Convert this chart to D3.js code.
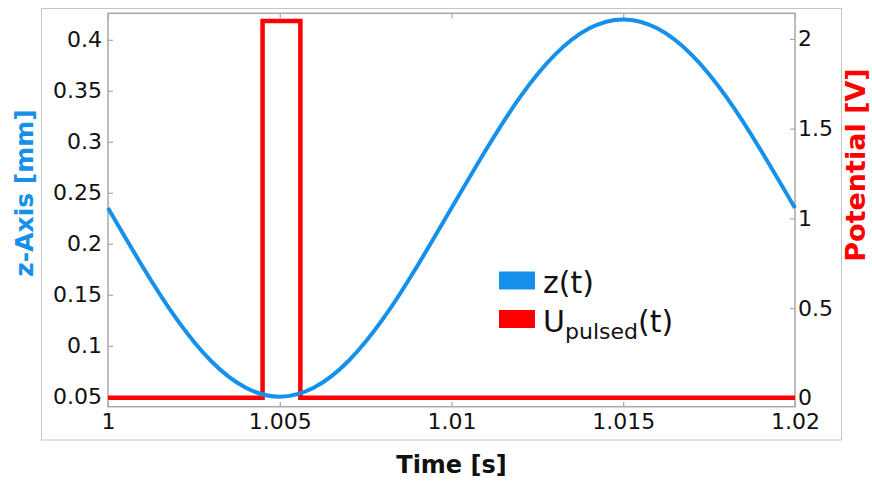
<!DOCTYPE html>
<html>
<head>
<meta charset="utf-8">
<script src="https://cdn.jsdelivr.net/npm/d3@7"></script>
<style>
  body { margin: 0; background: #fff; }
  svg { display: block; font-family: "DejaVu Sans", sans-serif; }
  .tick text { fill: #111; }
</style>
</head>
<body>
<svg id="chart" width="872" height="483"></svg>
<script>
// data
const zTime = [1, 1.001, 1.002, 1.003, 1.004, 1.005, 1.006, 1.007, 1.008, 1.009, 1.01,
               1.011, 1.012, 1.013, 1.014, 1.015, 1.016, 1.017, 1.018, 1.019, 1.02];
const zValues = [0.235, 0.178, 0.126, 0.085, 0.059, 0.05, 0.059, 0.085, 0.126, 0.178, 0.235,
                 0.292, 0.344, 0.385, 0.411, 0.42, 0.411, 0.385, 0.344, 0.292, 0.235];
const pulseTime = [1, 1.0045, 1.0045, 1.0056, 1.0056, 1.02];
const pulseValues = [0, 0, 2.1, 2.1, 0, 0];

const timeTicks = [1, 1.005, 1.01, 1.015, 1.02];
const timeLabels = ["1", "1.005", "1.01", "1.015", "1.02"];
const zTicks = [0.05, 0.1, 0.15, 0.2, 0.25, 0.3, 0.35, 0.4];
const zLabels = ["0.05", "0.1", "0.15", "0.2", "0.25", "0.3", "0.35", "0.4"];
const potTicks = [0, 0.5, 1, 1.5, 2];
const potLabels = ["0", "0.5", "1", "1.5", "2"];

const blue = "#1591eb";
const red = "#ff0000";
const gray = "#a8a8a8";

const plot = { left: 108, right: 795, top: 13.3, bottom: 406.7 };

const svg = d3.select("#chart");

// outer figure box
svg.append("rect")
  .attr("x", 41.5).attr("y", 8.5)
  .attr("width", 800).attr("height", 431.5)
  .attr("fill", "none")
  .attr("stroke", "#c4c4c4");

const x = d3.scaleLinear().domain([1, 1.02]).range([plot.left, plot.right]);
const yZ = d3.scaleLinear().domain([0.0402, 0.426]).range([plot.bottom, plot.top]);
const yU = d3.scaleLinear().domain([-0.05, 2.143]).range([plot.bottom, plot.top]);

function styleAxis(g) {
  g.select(".domain").remove();
  g.selectAll(".tick line").attr("stroke", gray).attr("stroke-width", 1.2);
  g.selectAll(".tick text").attr("font-size", 22).attr("font-family", "DejaVu Sans");
}

// bottom axis
svg.append("g")
  .attr("transform", `translate(0,${plot.bottom})`)
  .call(d3.axisBottom(x).tickValues(timeTicks).tickSizeInner(-5).tickSizeOuter(0)
    .tickPadding(7).tickFormat((d, i) => timeLabels[i]))
  .call(styleAxis);

// top ticks (mirror)
svg.append("g")
  .attr("transform", `translate(0,${plot.top})`)
  .call(d3.axisTop(x).tickValues(timeTicks).tickSizeInner(-5).tickSizeOuter(0).tickFormat(""))
  .call(styleAxis);

// left axis
svg.append("g")
  .attr("transform", `translate(${plot.left},0)`)
  .call(d3.axisLeft(yZ).tickValues(zTicks).tickSizeInner(-5).tickSizeOuter(0)
    .tickPadding(6).tickFormat((d, i) => zLabels[i]))
  .call(styleAxis);

// right axis
svg.append("g")
  .attr("transform", `translate(${plot.right},0)`)
  .call(d3.axisRight(yU).tickValues(potTicks).tickSizeInner(-5).tickSizeOuter(0)
    .tickPadding(3).tickFormat((d, i) => potLabels[i]))
  .call(styleAxis);

// plot frame
svg.append("rect")
  .attr("x", plot.left).attr("y", plot.top)
  .attr("width", plot.right - plot.left).attr("height", plot.bottom - plot.top)
  .attr("fill", "none")
  .attr("stroke", gray)
  .attr("stroke-width", 1.5);

// pulse line
svg.append("path")
  .datum(pulseTime.map((t, i) => [t, pulseValues[i]]))
  .attr("fill", "none")
  .attr("stroke", red)
  .attr("stroke-width", 4.5)
  .attr("stroke-linejoin", "miter")
  .attr("d", d3.line().x(d => x(d[0])).y(d => yU(d[1])));

// z(t) curve
svg.append("path")
  .datum(zTime.map((t, i) => [t, zValues[i]]))
  .attr("fill", "none")
  .attr("stroke", blue)
  .attr("stroke-width", 4)
  .attr("d", d3.line().x(d => x(d[0])).y(d => yZ(d[1])).curve(d3.curveNatural));

// axis titles
svg.append("text")
  .attr("x", (plot.left + plot.right) / 2).attr("y", 473)
  .attr("text-anchor", "middle")
  .attr("font-size", 24).attr("font-weight", "bold")
  .attr("fill", "#111")
  .text("Time [s]");

svg.append("text")
  .attr("transform", "translate(33,193) rotate(-90)")
  .attr("text-anchor", "middle")
  .attr("font-size", 25).attr("font-weight", "bold")
  .attr("fill", blue)
  .text("z-Axis [mm]");

svg.append("text")
  .attr("transform", "translate(865,165) rotate(-90)")
  .attr("text-anchor", "middle")
  .attr("font-size", 27).attr("font-weight", "bold")
  .attr("fill", red)
  .text("Potential [V]");

// legend
const legend = svg.append("g").attr("transform", "translate(499,271.5)");
legend.append("rect").attr("x", 0).attr("y", 0).attr("width", 36).attr("height", 18).attr("fill", blue);
legend.append("rect").attr("x", 0).attr("y", 38.5).attr("width", 36).attr("height", 18).attr("fill", red);
legend.append("text")
  .attr("x", 44).attr("y", 21.5)
  .attr("font-size", 30).attr("fill", "#111")
  .text("z(t)");
const uText = legend.append("text")
  .attr("x", 44).attr("y", 60)
  .attr("font-size", 30).attr("fill", "#111");
uText.append("tspan").text("U");
uText.append("tspan").attr("font-size", 22).attr("dy", 7).text("pulsed");
uText.append("tspan").attr("dy", -7).text("(t)");
</script>
</body>
</html>
